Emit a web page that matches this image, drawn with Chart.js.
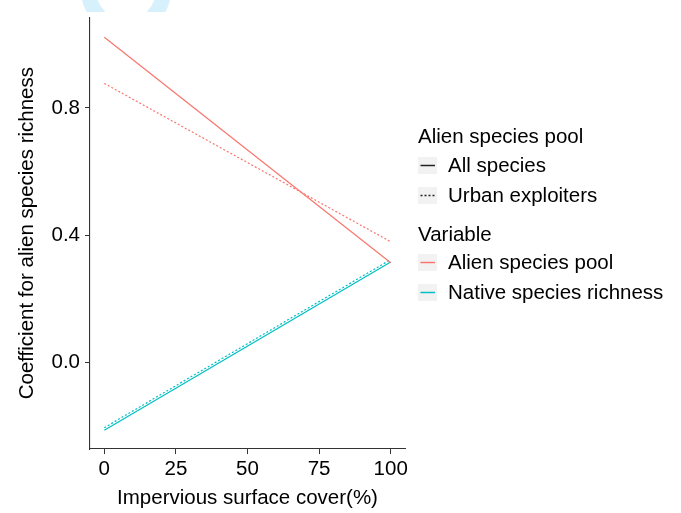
<!DOCTYPE html>
<html>
<head>
<meta charset="utf-8">
<script src="https://cdn.jsdelivr.net/npm/chart.js@4"></script>
<style>
    html, body { margin: 0; padding: 0; background: #fff; }
    #wrap { position: relative; width: 681px; height: 513px; overflow: hidden; font-family: "Liberation Sans", Arial, sans-serif; }
    #chart { position: absolute; left: 0; top: 0; }
    #mark { position: absolute; left: 0; top: 0; width: 681px; height: 12px; overflow: hidden; }
    #mark div { position: absolute; left: 81px; top: -55px; width: 90px; height: 90px; box-sizing: border-box;
                border: 15px solid #d6f0fc; border-radius: 50%; }
    .legend { position: absolute; left: 418px; top: 0; color: #000; font-size: 20.5px; }
    .lg-title, .lg-item { position: absolute; left: 0; white-space: nowrap; line-height: 24px; height: 24px; }
    .lg-item { display: flex; align-items: center; }
    .lg-key { display: block; margin-right: 11px; }
</style>
</head>
<body>
<div id="wrap">
    <div id="mark"><div></div></div>
    <canvas id="chart" width="681" height="513"></canvas>
    <div class="legend" id="legend"></div>
</div>
<script>
const impervious = [0, 100];
const xTicks = [0, 25, 50, 75, 100];
const yTicks = [0.0, 0.4, 0.8];

const alienAll = [1.022, 0.313];
const alienUrban = [0.877, 0.379];
const nativeAll = [-0.214, 0.315];
const nativeUrban = [-0.206, 0.323];

const RED = "#F8766D";
const CYAN = "#00BFC4";
const FONT = { size: 20.5, family: "Liberation Sans" };

function pts(values) {
    return values.map((v, i) => ({ x: impervious[i], y: v }));
}

function line(label, values, color, dotted) {
    return {
        label,
        data: pts(values),
        borderColor: color,
        borderWidth: 1.2,
        borderDash: dotted ? [2, 2] : [],
        pointRadius: 0,
        fill: false,
        tension: 0
    };
}

const ctx = document.getElementById("chart").getContext("2d");
new Chart(ctx, {
    type: "line",
    data: {
        datasets: [
            line("Alien species pool / All species", alienAll, RED, false),
            line("Alien species pool / Urban exploiters", alienUrban, RED, true),
            line("Native species richness / All species", nativeAll, CYAN, false),
            line("Native species richness / Urban exploiters", nativeUrban, CYAN, true)
        ]
    },
    options: {
        responsive: false,
        animation: false,
        layout: { padding: { left: 0, top: 15, right: 276, bottom: 0 } },
        plugins: { legend: { display: false }, tooltip: { enabled: false } },
        scales: {
            x: {
                type: "linear",
                min: -5,
                max: 105,
                afterBuildTicks: s => { s.ticks = xTicks.map(v => ({ value: v })); },
                afterFit: s => { s.height = 64; },
                ticks: { color: "#000", font: FONT, padding: 3 },
                grid: { drawOnChartArea: false, drawTicks: true, tickLength: 5, color: "#333" },
                border: { color: "#333", width: 1.1 },
                title: {
                    display: true,
                    text: "Impervious surface cover(%)",
                    color: "#000",
                    font: FONT,
                    padding: { top: 0, bottom: 2 }
                }
            },
            y: {
                type: "linear",
                min: -0.273,
                max: 1.085,
                afterBuildTicks: s => { s.ticks = yTicks.map(v => ({ value: v })); },
                afterFit: s => { s.width = 90; },
                ticks: {
                    color: "#000",
                    font: FONT,
                    padding: 5,
                    callback: v => Number(v).toFixed(1)
                },
                grid: { drawOnChartArea: false, drawTicks: true, tickLength: 5, color: "#333" },
                border: { color: "#333", width: 1.1 },
                title: {
                    display: true,
                    text: "Coefficient for alien species richness",
                    color: "#000",
                    font: FONT,
                    padding: { top: 15, bottom: 0 }
                }
            }
        }
    }
});

// legend, ggplot style; y is the middle of the capital letters
const legendRows = [
    { kind: "title", text: "Alien species pool", y: 135.5 },
    { kind: "item", text: "All species", y: 165, color: "#222", dash: "" },
    { kind: "item", text: "Urban exploiters", y: 194.5, color: "#222", dash: "2,2" },
    { kind: "title", text: "Variable", y: 233.7 },
    { kind: "item", text: "Alien species pool", y: 262, color: RED, dash: "" },
    { kind: "item", text: "Native species richness", y: 291.7, color: CYAN, dash: "" }
];

const legendEl = document.getElementById("legend");
legendRows.forEach(row => {
    const el = document.createElement("div");
    el.style.top = Math.round(row.y - 11.75) + "px";
    if (row.kind === "title") {
        el.className = "lg-title";
        el.textContent = row.text;
    } else {
        el.className = "lg-item";
        const dashAttr = row.dash ? ` stroke-dasharray="${row.dash}"` : "";
        el.innerHTML = `<svg class="lg-key" width="19" height="17"><rect width="19" height="17" fill="#f2f2f2"/>` +
            `<line x1="2.5" y1="8.5" x2="17" y2="8.5" stroke="${row.color}" stroke-width="1.5"${dashAttr}/></svg>`;
        const span = document.createElement("span");
        span.textContent = row.text;
        el.appendChild(span);
    }
    legendEl.appendChild(el);
});
</script>
</body>
</html>
